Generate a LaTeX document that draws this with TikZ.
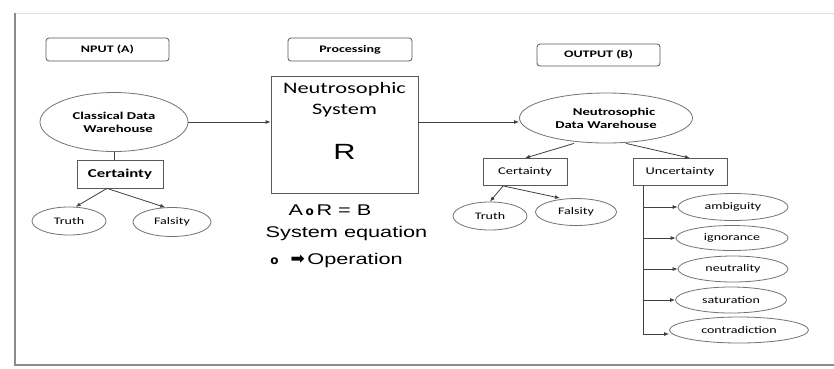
\documentclass[tikz,border=0pt]{standalone}
\usepackage{fontspec}
\setmainfont[FakeStretch=1.4]{Carlito}
\newfontfamily\arialf[FakeStretch=1.4]{Liberation Sans}
\newfontfamily\dejavu{DejaVu Sans}
\usetikzlibrary{shapes.geometric,arrows.meta}
\newcommand{\ringop}{{\dejavu\bfseries\fontsize{12}{12}\selectfont o}}
\begin{document}
\begin{tikzpicture}[x=1pt,y=-1pt,
  lbl/.style={draw=black!65, rounded corners=3pt, line width=0.8pt, inner sep=0pt, font=\bfseries\fontsize{10}{11}\selectfont},
  elli/.style={ellipse, draw=black!55, line width=0.8pt, inner sep=0pt, font=\fontsize{10}{11}\selectfont},
  rbox/.style={draw=black!65, line width=0.8pt, inner sep=0pt, font=\fontsize{10.3}{12}\selectfont},
  arr/.style={-{Latex[length=5pt,width=4pt]}, draw=black!75, line width=0.8pt},
  ln/.style={draw=black!75, line width=0.8pt},
  txt/.style={inner sep=0pt, align=center}]
\useasboundingbox (0,0) rectangle (834,368);
\fill[white] (0,0) rectangle (834,368);
% frame
\draw[black!12, line width=1pt] (15,13) -- (834,13);
\draw[black!45, line width=1.8pt] (834,365) -- (15,365) -- (15,13);

% labels
\node[lbl, minimum width=123pt, minimum height=23pt] (inp) at (107.5,49.5) {NPUT (A)};
\node[lbl, minimum width=124pt, minimum height=23pt] (proc) at (350,49.5) {Processing};
\node[lbl, minimum width=123pt, minimum height=22pt] (outp) at (598.5,55) {OUTPUT (B)};

% input side
\node[elli, minimum width=148pt, minimum height=59pt, align=center, font=\bfseries\fontsize{10.5}{13}\selectfont] (cdw) at (114,122) {Classical Data\\\hspace*{8pt}Warehouse};
\node[rbox, minimum width=86pt, minimum height=28pt, font=\bfseries\fontsize{12}{13}\selectfont] (cert1) at (120,174) {Certainty};
\node[elli, minimum width=74pt, minimum height=28pt] (truth1) at (69,221) {Truth};
\node[elli, minimum width=78pt, minimum height=29pt] (fals1) at (172,222) {Falsity};

% system
\node[rbox, minimum width=147pt, minimum height=117pt] (sys) at (344.5,134.5) {};
\node[txt, font=\fontsize{16}{21}\selectfont] (systxt) at (344.5,100) {Neutrosophic\\System};
\node[txt, font=\arialf\fontsize{22}{24}\selectfont] (rtxt) at (344.5,152) {R};
\node[txt, font=\arialf\fontsize{15.5}{18}\selectfont] (eq1) at (330,210) {A\,\ringop\,R = B};
\node[txt, font=\arialf\fontsize{15.5}{18}\selectfont] (eq2) at (346.5,233) {System equation};
\node[txt, font=\arialf\fontsize{15.5}{18}\selectfont] (eq3) at (336.5,260) {\ringop\ \ {\dejavu\fontsize{17}{17}\selectfont ➡}\,Operation};

% output side
\node[elli, minimum width=173pt, minimum height=50pt, align=center, font=\bfseries\fontsize{10.5}{13}\selectfont] (ndw) at (606,118) {\hspace*{16pt}Neutrosophic\\Data Warehouse};
\node[rbox, minimum width=84pt, minimum height=27pt] (cert2) at (525,172) {Certainty};
\node[rbox, minimum width=94pt, minimum height=27pt] (unc) at (680,172) {Uncertainty};
\node[elli, minimum width=74pt, minimum height=28pt] (truth2) at (490,216) {Truth};
\node[elli, minimum width=81pt, minimum height=27pt] (fals2) at (576,212) {Falsity};
\node[elli, minimum width=110pt, minimum height=27pt] (amb) at (733,207) {ambiguity};
\node[elli, minimum width=112pt, minimum height=25pt] (ign) at (732,238) {ignorance};
\node[elli, minimum width=110pt, minimum height=26pt] (neu) at (733,269) {neutrality};
\node[elli, minimum width=111pt, minimum height=26pt] (sat) at (731,300) {saturation};
\node[elli, minimum width=139pt, minimum height=26pt] (con) at (739,330) {contradiction};

% connectors
\draw[arr] (cdw.east) -- (sys.west |- cdw.east);
\draw[arr] (sys.east |- cdw.east) -- (ndw.west |- cdw.east);
\draw[ln] (cdw.south) -- (cdw.south |- cert1.north);
\draw[arr] ([xshift=-13pt]cert1.south) -- (truth1.65);
\draw[arr] ([xshift=-13pt]cert1.south) -- (fals1.115);
\draw[arr] ([xshift=-32pt]ndw.south) -- (cert2.north);
\draw[arr] ([xshift=20pt]ndw.south) -- ([xshift=10pt]unc.north);
\draw[arr] ([xshift=-22pt]cert2.south) -- (truth2.north);
\draw[arr] ([xshift=-22pt]cert2.south) -- ([xshift=-16pt]fals2.north);
\coordinate (trunk) at ([xshift=-37pt]unc.south);
\coordinate (tend) at (trunk |- 0,334);
\draw[ln] (trunk) -- (tend);
\draw[arr] (trunk |- amb.west) -- (amb.west);
\draw[arr] (trunk |- ign.west) -- (ign.west);
\draw[arr] (trunk |- neu.west) -- (neu.west);
\draw[arr] (trunk |- sat.west) -- (sat.west);
\draw[arr] (tend) -- (con.west |- tend);
\end{tikzpicture}
\end{document}
